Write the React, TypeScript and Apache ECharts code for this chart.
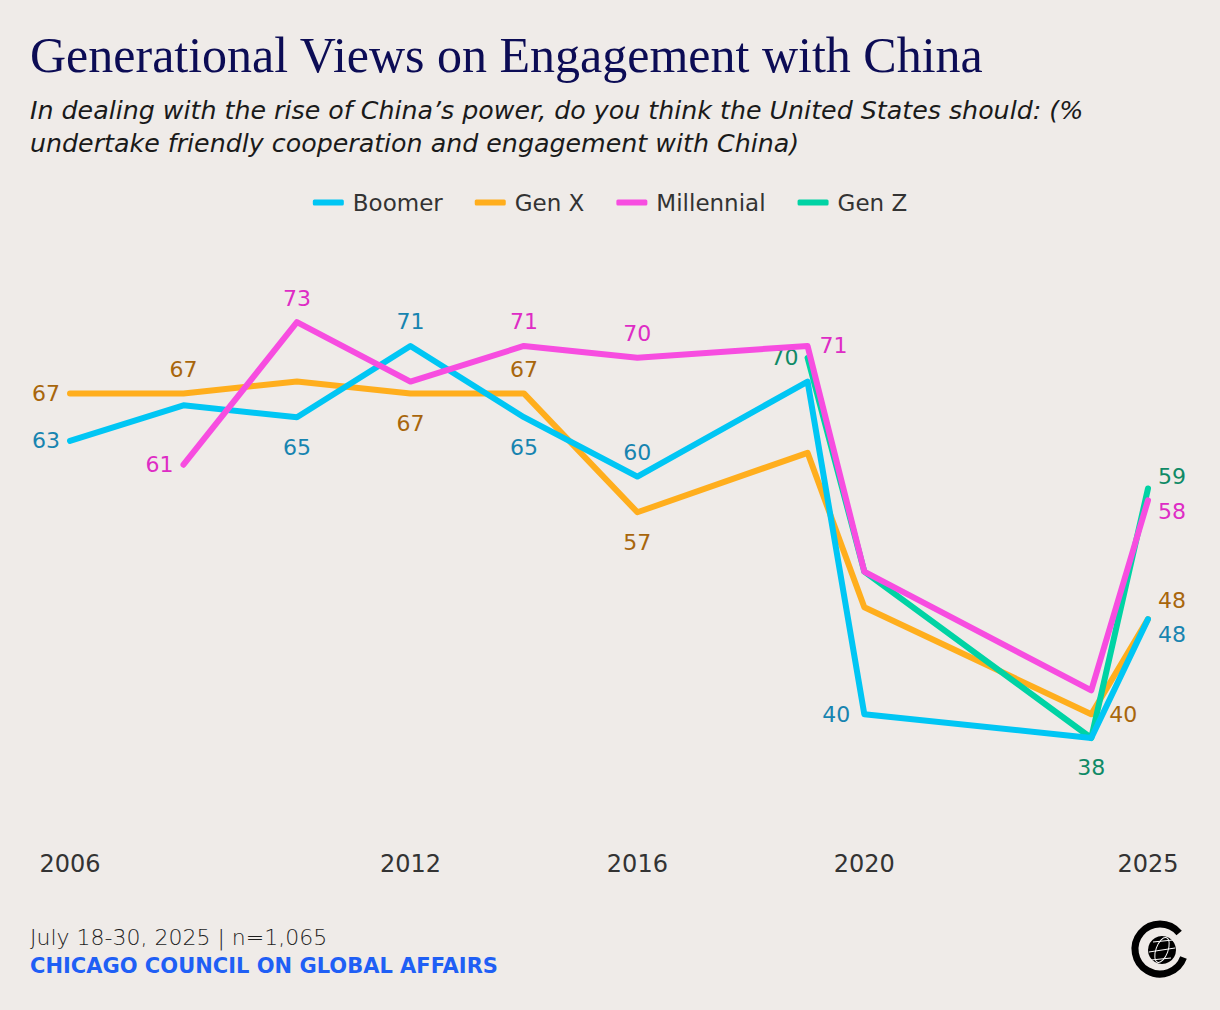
import React, { useEffect, useRef } from "react";
import * as echarts from "echarts";

const boomerYears = [2006, 2008, 2010, 2012, 2014, 2016, 2019, 2020, 2024, 2025];
const boomerValues = [63, 66, 65, 71, 65, 60, 68, 40, 38, 48];
const genXYears = [2006, 2008, 2010, 2012, 2014, 2016, 2019, 2020, 2024, 2025];
const genXValues = [67, 67, 68, 67, 67, 57, 62, 49, 40, 48];
const millennialYears = [2008, 2010, 2012, 2014, 2016, 2019, 2020, 2024, 2025];
const millennialValues = [61, 73, 68, 71, 70, 71, 52, 42, 58];
const genZYears = [2019, 2020, 2024, 2025];
const genZValues = [70, 52, 38, 59];
const xTickLabels = [2006, 2012, 2016, 2020, 2025];
const seriesNames = ["Boomer", "Gen X", "Millennial", "Gen Z"];

// which points carry a value label, and where
const labelSpecs: Record<string, { year: number; pos: string; dy?: number; dist?: number }[]> = {
  Boomer: [
    { year: 2006, pos: "left" },
    { year: 2010, pos: "bottom" },
    { year: 2012, pos: "top" },
    { year: 2014, pos: "bottom" },
    { year: 2016, pos: "top" },
    { year: 2020, pos: "left", dist: 14 },
    { year: 2025, pos: "right", dy: 15 },
  ],
  "Gen X": [
    { year: 2006, pos: "left" },
    { year: 2008, pos: "top" },
    { year: 2012, pos: "bottom" },
    { year: 2014, pos: "top" },
    { year: 2016, pos: "bottom" },
    { year: 2024, pos: "right", dist: 18 },
    { year: 2025, pos: "right", dy: -19 },
  ],
  Millennial: [
    { year: 2008, pos: "left" },
    { year: 2010, pos: "top" },
    { year: 2014, pos: "top" },
    { year: 2016, pos: "top" },
    { year: 2019, pos: "right", dist: 12 },
    { year: 2025, pos: "right", dy: 11 },
  ],
  "Gen Z": [
    { year: 2019, pos: "left", dist: 6 },
    { year: 2024, pos: "bottom" },
    { year: 2025, pos: "right", dy: -12 },
  ],
};

const BG = "#efebe8";
const FONT = "'DejaVu Sans', 'Noto Sans', sans-serif";
const lineColors: Record<string, string> = {
  Boomer: "#00c6f4",
  "Gen X": "#ffae1d",
  Millennial: "#f74de0",
  "Gen Z": "#00d3a4",
};
const labelColors: Record<string, string> = {
  Boomer: "#1784b0",
  "Gen X": "#a8660c",
  Millennial: "#de2cc5",
  "Gen Z": "#0f8a66",
};
const zOrder: Record<string, number> = { "Gen X": 2, "Gen Z": 3, Boomer: 4, Millennial: 5 };

function buildSeries(name: string, years: number[], values: number[]) {
  const specs = labelSpecs[name] || [];
  return {
    name,
    type: "line",
    z: zOrder[name],
    symbol: "circle",
    symbolSize: 0.01,
    showSymbol: true,
    lineStyle: { width: 6, color: lineColors[name], cap: "round", join: "round" },
    itemStyle: { color: lineColors[name] },
    label: { show: false },
    data: years.map((y, i) => {
      const s = specs.find((sp) => sp.year === y);
      const d: any = { value: [y, values[i]] };
      if (s) {
        const dist =
          s.dist ?? (s.pos === "top" ? 13 : s.pos === "bottom" ? 19 : 10);
        d.label = {
          show: true,
          position: s.pos,
          distance: dist,
          offset: [0, s.dy || 0],
          color: labelColors[name],
          fontSize: 22,
          fontFamily: FONT,
          formatter: "{@[1]}",
          ...(name === "Gen Z" && y === 2019
            ? { backgroundColor: BG, padding: [0, 3, 0, 3] }
            : {}),
        };
      }
      return d;
    }),
  };
}

export default function App() {
  const ref = useRef<HTMLDivElement>(null);
  useEffect(() => {
    if (!ref.current) return;
    const chart = echarts.init(ref.current, undefined, { renderer: "svg" });
    const gx = 1162;
    const gy = 950;
    const option: any = {
      animation: false,
      backgroundColor: BG,
      textStyle: { fontFamily: FONT },
      legend: {
        top: 186,
        left: "center",
        icon: "roundRect",
        itemWidth: 31,
        itemHeight: 6,
        itemGap: 32,
        textStyle: { fontSize: 23, color: "#333", fontFamily: FONT, padding: [0, 0, 0, 4] },
        data: seriesNames,
      },
      grid: { left: 70, right: 72, top: 239, bottom: 177, containLabel: false },
      xAxis: {
        type: "value",
        min: 2006,
        max: 2025,
        interval: 1,
        axisLine: { show: false },
        axisTick: { show: false },
        splitLine: { show: false },
        axisLabel: {
          margin: 19,
          fontSize: 24,
          color: "#333",
          fontFamily: FONT,
          formatter: (v: number) => (xTickLabels.includes(v) ? String(v) : ""),
        },
      },
      yAxis: {
        type: "value",
        min: 30,
        max: 80,
        show: false,
        splitLine: { show: false },
      },
      series: [
        buildSeries("Boomer", boomerYears, boomerValues),
        buildSeries("Gen X", genXYears, genXValues),
        buildSeries("Millennial", millennialYears, millennialValues),
        buildSeries("Gen Z", genZYears, genZValues),
      ],
      graphic: [
        {
          type: "text",
          left: 30,
          top: 30,
          style: {
            text: "Generational Views on Engagement with China",
            fontFamily: "'Liberation Serif', 'DejaVu Serif', serif",
            fontSize: 50,
            fill: "#0c0c55",
          },
        },
        {
          type: "text",
          left: 30,
          top: 94,
          style: {
            text:
              "In dealing with the rise of China\u2019s power, do you think the United States should: (%\nundertake friendly cooperation and engagement with China)",
            fontFamily: FONT,
            fontStyle: "italic",
            fontSize: 25.3,
            lineHeight: 33,
            fill: "#1a1a1a",
          },
        },
        {
          type: "text",
          left: 30,
          top: 926,
          style: {
            text: "July 18-30, 2025 | n=1,065",
            fontFamily: FONT,
            fontWeight: 300,
            fontSize: 22,
            fill: "#1e1e1e",
          },
        },
        {
          type: "text",
          left: 30,
          top: 955,
          style: {
            text: "CHICAGO COUNCIL ON GLOBAL AFFAIRS",
            fontFamily: FONT,
            fontWeight: "bold",
            fontSize: 21,
            fill: "#1f5ff5",
          },
        },
        {
          type: "arc",
          shape: {
            cx: 1160,
            cy: 949,
            r: 25,
            startAngle: (20 * Math.PI) / 180,
            endAngle: (320 * Math.PI) / 180,
            clockwise: true,
          },
          style: { stroke: "#000", lineWidth: 7, fill: null },
        },
        {
          type: "circle",
          shape: { cx: gx, cy: gy, r: 14 },
          style: { fill: "#000" },
        },
        {
          type: "ellipse",
          shape: { cx: 0, cy: 0, rx: 6, ry: 13 },
          rotation: -0.35,
          x: gx,
          y: gy,
          style: { fill: null, stroke: "#fff", lineWidth: 1 },
        },
        {
          type: "line",
          shape: { x1: gx - 13, y1: gy + 2, x2: gx + 13, y2: gy - 2 },
          style: { stroke: "#fff", lineWidth: 1 },
        },
        {
          type: "line",
          shape: { x1: gx - 9, y1: gy - 8, x2: gx + 11, y2: gy - 10 },
          style: { stroke: "#fff", lineWidth: 1 },
        },
        {
          type: "line",
          shape: { x1: gx - 11, y1: gy + 10, x2: gx + 9, y2: gy + 8 },
          style: { stroke: "#fff", lineWidth: 1 },
        },
      ],
    };
    chart.setOption(option);
    return () => chart.dispose();
  }, []);
  return (
    <div
      ref={ref}
      style={{ position: "fixed", left: 0, top: 0, width: 1220, height: 1010 }}
    />
  );
}
